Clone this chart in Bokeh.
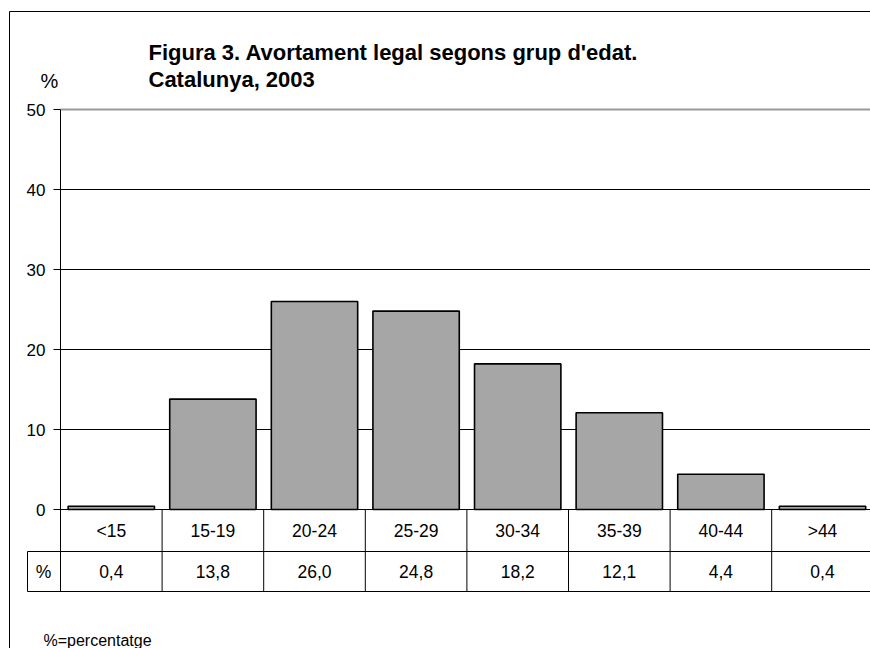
from bokeh.plotting import figure
from bokeh.models import Range1d, FixedTicker, Label, ColumnDataSource
from bokeh.embed import file_html
from bokeh.resources import INLINE
from bokeh.core.properties import value

# ---- data ----
categories = ["<15", "15-19", "20-24", "25-29", "30-34", "35-39", "40-44", ">44"]
values = [0.4, 13.8, 26.0, 24.8, 18.2, 12.1, 4.4, 0.4]
value_labels = ["0,4", "13,8", "26,0", "24,8", "18,2", "12,1", "4,4", "0,4"]
y_ticks = [0, 10, 20, 30, 40, 50]
title_line1 = "Figura 3. Avortament legal segons grup d'edat."
title_line2 = "Catalunya, 2003"
y_unit = "%"
row_header = "%"
footnote = "%=percentatge"

# ---- layout helpers (page pixels -> data units) ----
W_PX, H_PX = 870, 648
PX_PER_CAT = 101.6
PX_PER_UNIT = 8.0
AXIS_PX = 60
ZERO_PX = 509


def X(px):
    return (px - AXIS_PX) / PX_PER_CAT


def Y(py):
    return (ZERO_PX - py) / PX_PER_UNIT


FONT = "Liberation Sans"
ROW1_BOTTOM = Y(551)
ROW2_BOTTOM = Y(591)
X_END = X(W_PX + 5)

p = figure(width=W_PX, height=H_PX,
           x_range=Range1d(X(0), X(W_PX)),
           y_range=Range1d(Y(H_PX), Y(0)),
           output_backend="svg", toolbar_location=None,
           x_axis_location=None, y_axis_location="left",
           min_border=0, min_border_left=0, min_border_right=0,
           min_border_top=0, min_border_bottom=0)
p.outline_line_color = None
p.background_fill_color = "white"
p.border_fill_color = "white"
p.xgrid.visible = False
p.ygrid.visible = False

# y axis drawn at the left edge of the first category
ax = p.yaxis[0]
ax.fixed_location = 0
ax.bounds = (ROW2_BOTTOM, 50)
ax.ticker = FixedTicker(ticks=y_ticks)
ax.axis_line_color = "black"
ax.axis_line_width = 1
ax.major_tick_out = 7
ax.major_tick_in = 0
ax.major_tick_line_color = "black"
ax.minor_tick_line_color = None
ax.major_label_text_font = FONT
ax.major_label_text_font_size = "17px"
ax.major_label_text_color = "black"
ax.major_label_standoff = 8

n = len(categories)
x_pos = [i + 0.5 for i in range(n)]
src = ColumnDataSource(dict(x=x_pos, cat=categories, val=values, lab=value_labels))

# gridlines (0..40 black) and top border at 50 (grey)
grid_y = y_ticks[:-1]
p.segment(x0=[0] * len(grid_y), x1=[X_END] * len(grid_y), y0=grid_y, y1=grid_y,
          line_color="black", line_width=1)
p.segment(x0=[0], x1=[X_END], y0=[y_ticks[-1]], y1=[y_ticks[-1]],
          line_color="#9a9a9a", line_width=2)

# bars
p.vbar(x="x", top="val", bottom=0, width=0.85, source=src,
       fill_color="#a6a6a6", line_color="black", line_width=1.6)

# data table below the chart
bounds_x = list(range(1, n + 1))
p.segment(x0=bounds_x, x1=bounds_x, y0=[0] * n, y1=[ROW2_BOTTOM] * n,
          line_color="black", line_width=1)
p.segment(x0=[X(27), X(27), X(27)], x1=[X_END, X_END, X(27)],
          y0=[ROW1_BOTTOM, ROW2_BOTTOM, ROW1_BOTTOM], y1=[ROW1_BOTTOM, ROW2_BOTTOM, ROW2_BOTTOM],
          line_color="black", line_width=1)

p.text(x="x", y=(0 + ROW1_BOTTOM) / 2, text="cat", source=src,
       text_align="center", text_baseline="middle",
       text_font=value(FONT), text_font_size="17.5px", text_color="black")
p.text(x="x", y=(ROW1_BOTTOM + ROW2_BOTTOM) / 2, text="lab", source=src,
       text_align="center", text_baseline="middle",
       text_font=value(FONT), text_font_size="17.5px", text_color="black")
p.add_layout(Label(x=X(43), y=(ROW1_BOTTOM + ROW2_BOTTOM) / 2,
                   text=row_header, text_align="center", text_baseline="middle",
                   text_font=FONT, text_font_size="17.5px", text_color="black"))

# outer chart-area border (left and top edges; right/bottom lie beyond the view)
p.segment(x0=[X(9), X(9)], x1=[X_END, X(9)], y0=[Y(11), Y(11)], y1=[Y(11), Y(H_PX + 5)],
          line_color="black", line_width=1)

# titles and notes
p.add_layout(Label(x=X(148), y=Y(52), text=title_line1,
                   text_align="left", text_baseline="alphabetic",
                   text_font=FONT, text_font_style="bold", text_font_size="22px", text_color="black"))
p.add_layout(Label(x=X(148), y=Y(79), text=title_line2,
                   text_align="left", text_baseline="alphabetic",
                   text_font=FONT, text_font_style="bold", text_font_size="22px", text_color="black"))
p.add_layout(Label(x=X(49), y=Y(80), text=y_unit,
                   text_align="center", text_baseline="alphabetic",
                   text_font=FONT, text_font_size="20px", text_color="black"))
p.add_layout(Label(x=X(43), y=Y(640), text=footnote,
                   text_align="left", text_baseline="alphabetic",
                   text_font=FONT, text_font_size="16px", text_color="black"))

open("out.html", "w").write(file_html(p, INLINE))
